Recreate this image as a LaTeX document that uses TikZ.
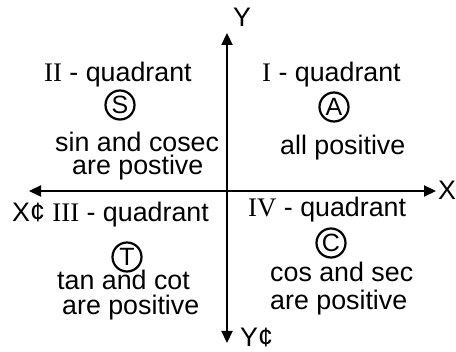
\documentclass[tikz,border=0pt]{standalone}
\usepackage{fontspec}
\setmainfont{Liberation Sans}
\newfontfamily\romfont{Liberation Serif}
\usetikzlibrary{arrows.meta}
\begin{document}
\begin{tikzpicture}[x=1pt,y=-1pt,
  txt/.style={inner sep=0pt,anchor=base west,font=\fontsize{26.8}{30}\selectfont},
  lab/.style={inner sep=0pt,anchor=base west,font=\fontsize{26.8}{30}\selectfont},
  circ/.style={circle,draw,line width=2.2pt,minimum size=29pt,inner sep=0pt,font=\fontsize{25}{27}\selectfont},
  axis/.style={line width=2.2pt,-{Triangle[length=12pt,width=11pt]}}]
\useasboundingbox (0,0) rectangle (456,352);
% axes
\coordinate (yb) at (227,343);
\coordinate (yt) at (227,33);
\coordinate (xl) at (29,191);
\coordinate (xr) at (436,191);
\coordinate (o) at (227,191);
\draw[axis] (o) -- (yt);
\draw[axis] (o) -- (yb);
\draw[axis] (o) -- (xl);
\draw[axis] (o) -- (xr);
% axis labels
\node[lab] (Y) at (233,27) {Y};
\node[lab] (X) at (438,200) {X};
\node[lab] (Yp) at (240,347) {Y¢};
% quadrant II
\node[txt] (q2) at (44,82) {{\romfont II} - quadrant};
\node[circ] (S) at (120,105) {S};
\node[txt] (q2a) at (55,152) {sin and cosec};
\node[txt] (q2b) at (72,175) {are postive};
% quadrant I
\node[txt] (q1) at (262,82) {{\romfont I} - quadrant};
\node[circ] (A) at (334,107) {A};
\node[txt] (q1a) at (280,155) {all positive};
% quadrant III
\node[txt] (q3) at (12,222) {X¢ {\romfont III} - quadrant};
\node[circ] (T) at (127,257) {T};
\node[txt] (q3a) at (57,290) {tan and cot};
\node[txt] (q3b) at (62,315) {are positive};
% quadrant IV
\node[txt] (q4) at (248,217) {{\romfont IV} - quadrant};
\node[circ] (C) at (331,243) {C};
\node[txt] (q4a) at (270,282) {cos and sec};
\node[txt] (q4b) at (270,310) {are positive};
\end{tikzpicture}
\end{document}
